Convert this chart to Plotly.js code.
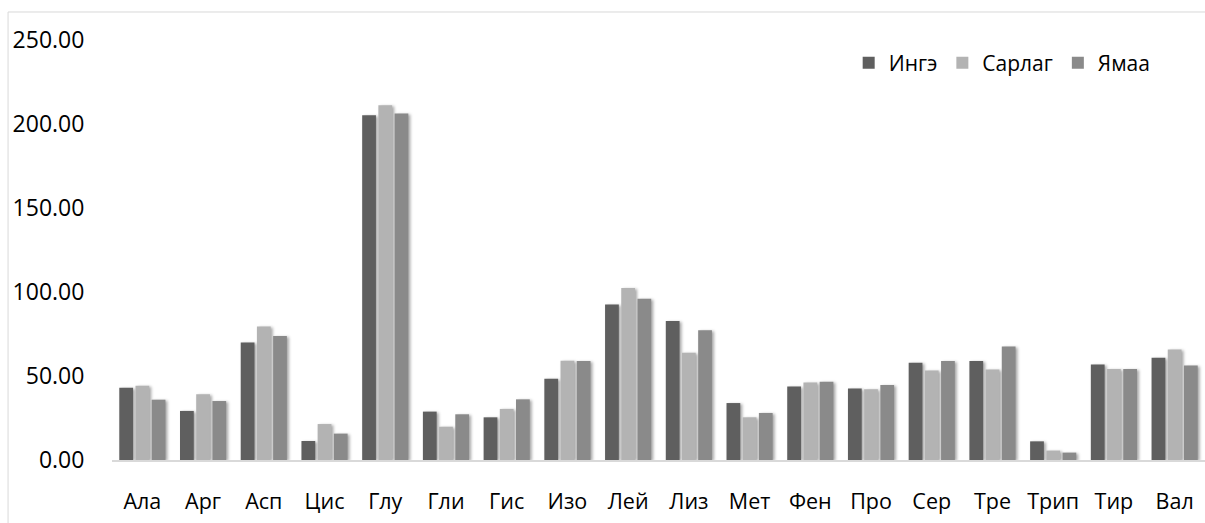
<!DOCTYPE html>
<html>
<head>
<meta charset="utf-8">
<script src="https://cdn.plot.ly/plotly-3.0.1.min.js"></script>
<style>
html,body{margin:0;padding:0;background:#fff;}
#chart{width:1205px;height:523px;}
.barlayer .point path{filter:drop-shadow(2px 1px 1.5px rgba(0,0,0,0.35));}
</style>
</head>
<body>
<div id="chart"></div>
<script>
const categories = ["Ала","Арг","Асп","Цис","Глу","Гли","Гис","Изо","Лей","Лиз","Мет","Фен","Про","Сер","Тре","Трип","Тир","Вал"];
const seriesNames = ["Ингэ","Сарлаг","Ямаа"];
const inge   = [43.0, 29.2, 70.0, 11.3, 205.2, 28.8, 25.4, 48.4, 92.5, 82.7, 33.9, 43.8, 42.5, 57.9, 58.9, 11.1, 56.8, 60.9];
const sarlag = [44.2, 39.1, 79.4, 21.4, 211.1, 19.8, 30.4, 59.1, 102.4, 63.9, 25.4, 46.2, 42.1, 53.2, 53.8, 5.6, 54.2, 65.7];
const yamaa  = [35.9, 35.1, 73.8, 15.7, 206.3, 27.2, 36.1, 58.9, 96.0, 77.2, 28.0, 46.6, 44.6, 58.9, 67.5, 4.4, 54.2, 56.3];
const yTicks = [0, 50, 100, 150, 200, 250];
const yTickLabels = ["0.00","50.00","100.00","150.00","200.00","250.00"];
const colors = ["#5f5f5f","#b3b3b3","#8a8a8a"];

const values = [inge, sarlag, yamaa];
const traces = values.map((v, i) => ({
  type: 'bar',
  name: seriesNames[i],
  x: categories,
  y: v,
  marker: {color: colors[i], line: {width: 0}},
  hoverinfo: 'x+y+name'
}));

const font = "Open Sans, Noto Sans, sans-serif";
const layout = {
  width: 1205, height: 523,
  margin: {l: 112, r: 0, t: 40, b: 63, pad: 0},
  paper_bgcolor: '#fff', plot_bgcolor: '#fff',
  font: {family: font, color: '#000', size: 20},
  barmode: 'group',
  bargap: 0.2,
  bargroupgap: 0.15,
  showlegend: true,
  legend: {
    orientation: 'h', x: 0.674, xanchor: 'left', y: 0.945, yanchor: 'middle',
    font: {family: font, size: 21, color: '#000'},
    bgcolor: 'rgba(0,0,0,0)', itemwidth: 30, traceorder: 'normal'
  },
  xaxis: {
    type: 'category',
    showgrid: false, zeroline: false,
    showline: true, linecolor: '#d9d9d9', linewidth: 2,
    ticks: 'outside', ticklen: 21, tickcolor: 'rgba(0,0,0,0)',
    tickfont: {family: font, size: 21.5, color: '#000'},
    fixedrange: true
  },
  yaxis: {
    range: [0, 250],
    tickmode: 'array', tickvals: yTicks, ticktext: yTickLabels,
    showgrid: false, zeroline: false, showline: false,
    ticks: 'outside', ticklen: 22, tickcolor: 'rgba(0,0,0,0)',
    tickfont: {family: font, size: 23, color: '#000'},
    fixedrange: true
  },
  shapes: [{
    type: 'rect', xref: 'paper', yref: 'paper',
    x0: -0.0951, x1: 1.05, y0: -0.16, y1: 1.0667,
    line: {color: '#d9d9d9', width: 1}, fillcolor: 'rgba(0,0,0,0)', layer: 'below'
  }]
};

Plotly.newPlot('chart', traces, layout, {displayModeBar: false, staticPlot: true});
</script>
</body>
</html>
